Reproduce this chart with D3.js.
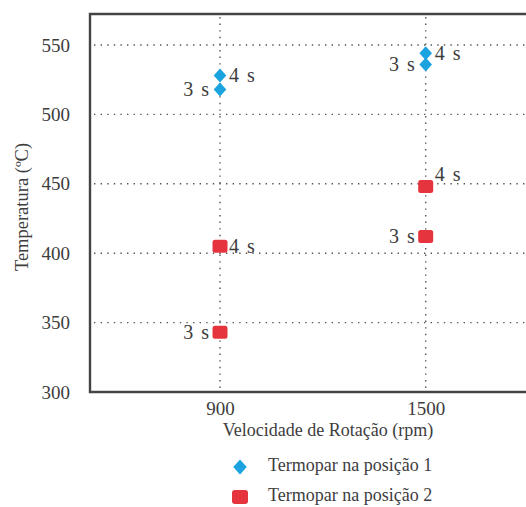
<!DOCTYPE html>
<html>
<head>
<meta charset="utf-8">
<script src="https://cdn.jsdelivr.net/npm/d3@7"></script>
<style>
  html, body { margin: 0; padding: 0; background: #fff; }
  svg { display: block; font-family: "Liberation Serif", "Times New Roman", serif; }
</style>
</head>
<body>
<svg id="chart" width="526" height="507"></svg>
<script>
// Rotation speeds (rpm) tested
const rpm = [900, 1500];
// Peak temperatures (ºC) for each thermocouple position and weld time
const pos1_3s = [518, 536];
const pos1_4s = [528, 544];
const pos2_3s = [343, 412];
const pos2_4s = [405, 448];
const timeLabels = ["3 s", "4 s"];
const yTicks = [300, 350, 400, 450, 500, 550];
const seriesNames = ["Termopar na posição 1", "Termopar na posição 2"];

const svg = d3.select("#chart");
const plotL = 90, plotT = 14, plotB = 392, plotR = 560;

const x = d3.scaleLinear().domain([520.8, 1500 + (plotR - 425.7) / 0.34283]).range([plotL, plotR]);
const y = d3.scaleLinear().domain([300, 300 + (plotB - plotT) / 1.388]).range([plotB, plotT]);

const blue = "#1ba3e0", red = "#e5343d", ink = "#3d3d3d";

// dotted grid
const grid = svg.append("g").attr("stroke", "#555").attr("stroke-width", 1.4)
  .attr("stroke-dasharray", "1.4,5.2").attr("stroke-linecap", "butt");
grid.selectAll("line.h").data(yTicks.filter(d => d > 300)).join("line").attr("class", "h")
  .attr("x1", plotL + 4).attr("x2", plotR).attr("y1", d => y(d)).attr("y2", d => y(d));
grid.selectAll("line.v").data(rpm).join("line").attr("class", "v")
  .attr("x1", d => x(d)).attr("x2", d => x(d)).attr("y1", plotT + 3).attr("y2", plotB - 2);

// axes
const yAxis = svg.append("g").attr("transform", `translate(${plotL},0)`)
  .call(d3.axisLeft(y).tickValues(yTicks).tickSize(0).tickPadding(20));
const xAxis = svg.append("g").attr("transform", `translate(0,${plotB})`)
  .call(d3.axisBottom(x).tickValues(rpm).tickFormat(d3.format("d")).tickSize(0).tickPadding(10));
[yAxis, xAxis].forEach(a => {
  a.select(".domain").remove();
  a.selectAll("text").attr("font-family", "Liberation Serif").attr("font-size", 19).attr("fill", ink);
});

// frame: top, left, bottom
svg.append("path")
  .attr("d", `M${plotR},${plotT}H${plotL}V${plotB}H${plotR}`)
  .attr("fill", "none").attr("stroke", "#444").attr("stroke-width", 2.4);

// markers
const diamond = (cx, cy, r) => `M${cx},${cy - r}L${cx + r * 0.9},${cy}L${cx},${cy + r}L${cx - r * 0.9},${cy}Z`;

const pts = [];
rpm.forEach((r, i) => {
  pts.push({ r, v: pos1_3s[i], s: 0, k: 1 });
  pts.push({ r, v: pos1_4s[i], s: 1, k: 1 });
  pts.push({ r, v: pos2_3s[i], s: 0, k: 2 });
  pts.push({ r, v: pos2_4s[i], s: 1, k: 2 });
});

const marks = svg.append("g");
pts.filter(p => p.k === 2).forEach(p => {
  marks.append("rect")
    .attr("x", x(p.r) - 7.5).attr("y", y(p.v) - 6.5).attr("width", 15).attr("height", 13)
    .attr("rx", 2.5).attr("fill", red);
});
pts.filter(p => p.k === 1).forEach(p => {
  marks.append("path").attr("d", diamond(x(p.r), y(p.v), 7)).attr("fill", blue);
});

// time labels beside each marker
const labels = svg.append("g").attr("font-size", 20).attr("fill", ink).attr("word-spacing", 3);
pts.forEach(p => {
  const cx = x(p.r), cy = y(p.v);
  const lift = (p.k === 2 && p.s === 1 && p.r === 1500) ? 12 : 0;
  labels.append("text")
    .attr("x", p.s === 1 ? cx + 9 : cx - 11)
    .attr("y", cy - lift)
    .attr("dy", "0.33em")
    .attr("text-anchor", p.s === 1 ? "start" : "end")
    .text(timeLabels[p.s]);
});

// axis titles
svg.append("text").attr("x", 328).attr("y", 436).attr("text-anchor", "middle")
  .attr("font-size", 18).attr("fill", ink).text("Velocidade de Rotação (rpm)");
svg.append("text").attr("transform", "translate(28,207) rotate(-90)").attr("text-anchor", "middle")
  .attr("font-size", 18.5).attr("fill", ink).text("Temperatura (ºC)");

// legend
const lg = svg.append("g");
lg.append("path").attr("d", diamond(240, 467, 7.5)).attr("fill", blue);
lg.append("rect").attr("x", 232).attr("y", 490).attr("width", 16).attr("height", 14).attr("rx", 3).attr("fill", red);
lg.selectAll("text").data(seriesNames).join("text")
  .attr("x", 268).attr("y", (d, i) => 471 + i * 30)
  .attr("font-size", 18).attr("fill", ink).text(d => d);
</script>
</body>
</html>
